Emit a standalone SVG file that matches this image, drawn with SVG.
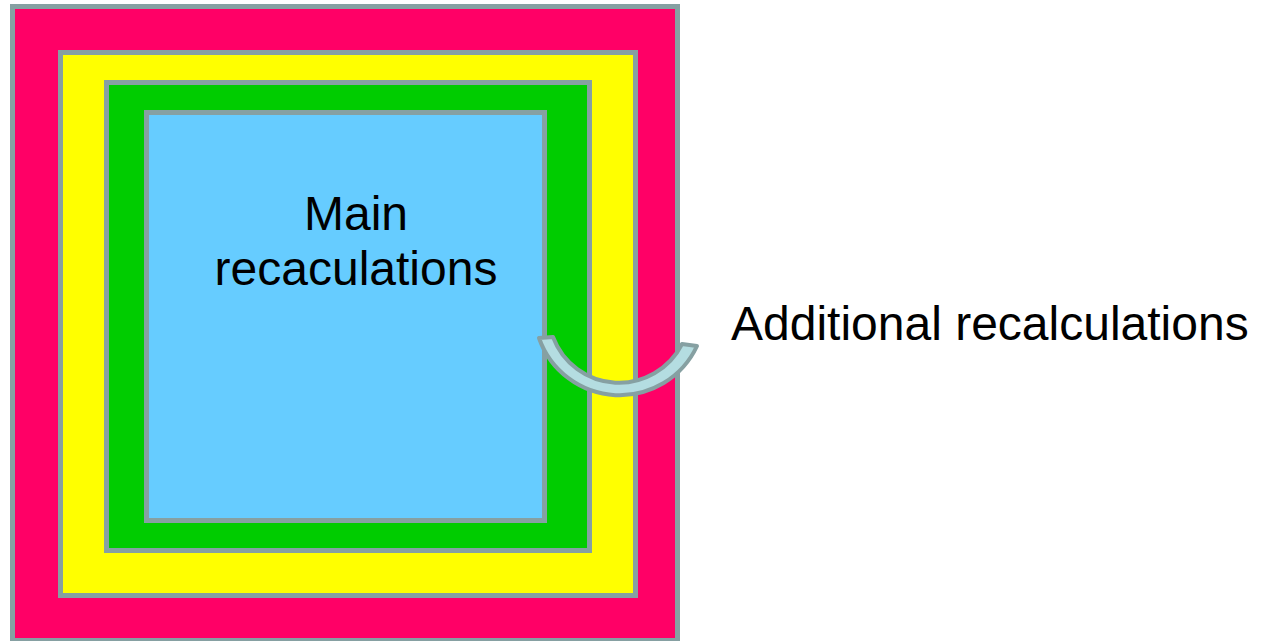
<svg xmlns="http://www.w3.org/2000/svg" width="1263" height="641" viewBox="0 0 1263 641">
<style>
.box{stroke:#86a0a2;stroke-width:5}
.lbl{font-family:"Liberation Sans",Arial,sans-serif;font-size:48px;fill:#000}
</style>
<rect width="1263" height="641" fill="#fff"/>
<g id="outer"><rect class="box" x="12.5" y="6.5" width="665" height="634" fill="#ff0066"/></g>
<g id="yellow"><rect class="box" x="60.5" y="52.5" width="575" height="543" fill="#ffff00"/></g>
<g id="green"><rect class="box" x="106.5" y="82.5" width="483" height="468" fill="#00cc00"/></g>
<g id="main"><rect class="box" x="146.5" y="112.5" width="398" height="408" fill="#66ccff"/>
<text class="lbl" x="356" y="230" text-anchor="middle">Main</text>
<text class="lbl" x="356" y="285" text-anchor="middle">recaculations</text></g>
<g id="connectors"><path d="M539 338 L553 337 A70.5 70.5 0 0 0 682 344 L697 346 A85.4 85.4 0 0 1 539 338 Z" fill="#b4dde1" stroke="#86a0a2" stroke-width="4" stroke-linejoin="round"/></g>
<g id="additional"><text class="lbl" x="731" y="340">Additional recalculations</text></g>
</svg>
